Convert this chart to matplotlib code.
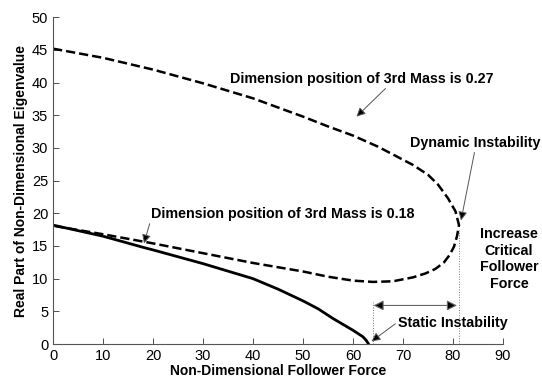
import matplotlib
matplotlib.use("Agg")
import matplotlib.pyplot as plt

plt.rcParams['font.family'] = ['Liberation Sans', 'DejaVu Sans']

# mass at 0.27 - upper branch (x from 0 to the coalescence point)
x_up = [0, 10, 20, 30, 40, 50, 55, 60, 65, 68, 72, 75, 77, 79, 80.5, 81.2]
y_up = [45.2, 43.8, 42.0, 39.9, 37.6, 34.8, 33.3, 31.9, 30.2, 29.0, 27.4, 25.9, 24.4, 22.3, 20.3, 18.2]

# mass at 0.27 - lower branch (back from the coalescence point to 0)
x_low = [81.2, 80.8, 80.2, 79.3, 78.2, 76.5, 74.5, 72, 70, 68, 64, 60, 55, 50, 40, 30, 20, 10, 0]
y_low = [18.2, 16.5, 14.9, 13.6, 12.5, 11.5, 10.8, 10.2, 9.9, 9.6, 9.5, 9.7, 10.3, 11.1, 12.4, 13.9, 15.4, 16.8, 18.1]

# mass at 0.18 - divergence branch
x_18 = [0, 10, 18, 20, 30, 40, 45, 50, 53, 56, 58, 60, 62, 62.7, 63.1]
y_18 = [18.2, 16.5, 14.8, 14.4, 12.3, 10.0, 8.4, 6.6, 5.4, 3.9, 3.0, 2.1, 1.1, 0.5, 0.0]

p_static = 63.9
p_dynamic = 81.1

fig = plt.figure(figsize=(5.42, 3.84), dpi=100)
ax = fig.add_axes([53/542, 40/384, 450/542, 326.7/384])

ax.plot(x_up + x_low, y_up + y_low, 'k--', lw=1.8)
ax.plot(x_18, y_18, 'k-', lw=2.0)

# dotted markers for the two critical loads
ax.plot([p_static, p_static], [0, 6.5], ':', color='#777777', lw=0.7)
ax.plot([p_dynamic, p_dynamic], [0, 17.5], ':', color='#777777', lw=0.7)

ax.set_xlim(0, 90)
ax.set_ylim(0, 50)
ax.set_xticks(range(0, 91, 10))
ax.set_yticks(range(0, 51, 5))
ax.tick_params(direction='in', length=4, width=0.6, labelsize=10.5, colors='#333333', labelcolor='k')
ax.spines['top'].set_visible(False)
ax.spines['right'].set_visible(False)
ax.spines['left'].set_color('#555555')
ax.spines['bottom'].set_color('#555555')

ax.set_xlabel('Non-Dimensional Follower Force', fontsize=10, fontweight='bold', labelpad=1)
ax.set_ylabel('Real Part of Non-Dimensional Eigenvalue', fontsize=10, fontweight='bold', labelpad=3)

arr = dict(arrowstyle='-|>', ec='#555555', fc='k', lw=0.7, mutation_scale=13, shrinkA=0, shrinkB=0)
tk = dict(fontsize=10.3, fontweight='bold', ha='center', va='center')

ax.annotate('Dimension position of 3rd Mass is 0.27', xy=(60.7, 34.8), xytext=(61.8, 40.6),
            arrowprops=dict(arr, relpos=(0.6, 0)), **tk)
ax.annotate('Dynamic Instability', xy=(81.6, 18.9), xytext=(84.4, 30.8),
            arrowprops=dict(arr, relpos=(0.5, 0)), annotation_clip=False, **tk)
ax.annotate('Dimension position of 3rd Mass is 0.18', xy=(18.2, 15.4), xytext=(46.0, 19.9),
            arrowprops=dict(arr, relpos=(0.0, 0.2)), **tk)
ax.annotate('Static Instability', xy=(63.7, 0.4), xytext=(80.0, 3.2),
            arrowprops=dict(arr, relpos=(0.0, 0.6)), annotation_clip=False, **tk)

# span between static and dynamic critical loads
ax.annotate('', xy=(p_dynamic - 0.3, 5.9), xytext=(p_static + 0.2, 5.9),
            arrowprops=dict(arrowstyle='<|-|>', ec='#666666', fc='k', lw=0.8,
                            mutation_scale=15, shrinkA=0, shrinkB=0))

ax.text(91.2, 13.0, 'Increase\nCritical\nFollower\nForce', linespacing=1.25, clip_on=False, **tk)

fig.savefig('out.png', dpi=100)
